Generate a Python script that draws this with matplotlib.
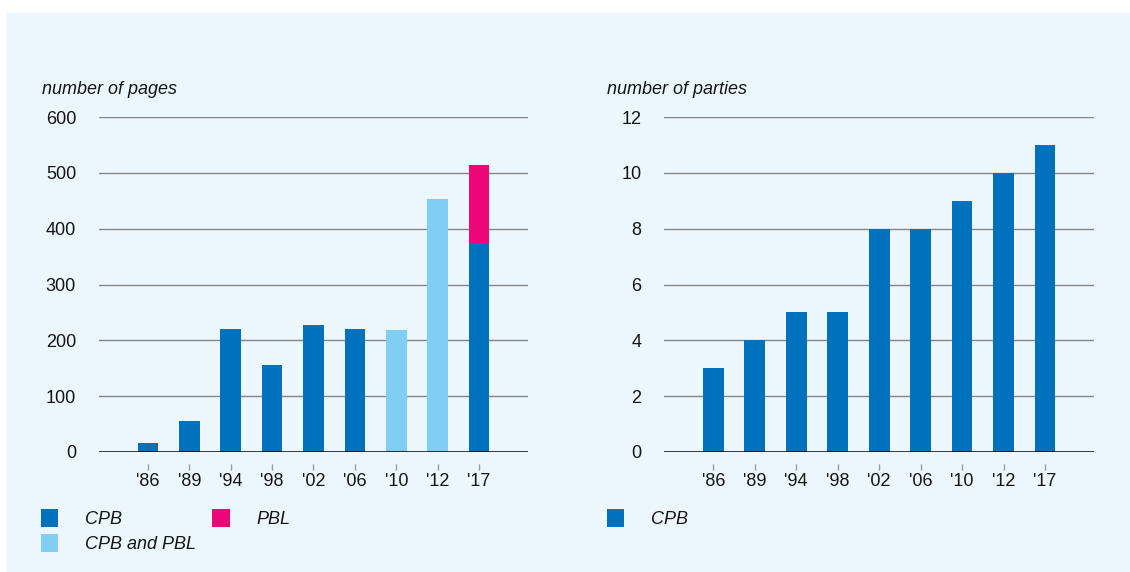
import numpy as np
import matplotlib
matplotlib.use("Agg")
import matplotlib.pyplot as plt
from matplotlib.patches import Patch, Rectangle

plt.rcParams['font.family'] = ['Liberation Sans', 'DejaVu Sans']

# data
years = ["'86", "'89", "'94", "'98", "'02", "'06", "'10", "'12", "'17"]
pages_cpb = [16, 55, 220, 155, 228, 220, 0, 0, 374]
pages_joint = [0, 0, 0, 0, 0, 0, 218, 454, 0]
pages_pbl = [0, 0, 0, 0, 0, 0, 0, 0, 140]
parties = [3, 4, 5, 5, 8, 8, 9, 10, 11]

dark = '#0071bc'
light = '#80cef1'
pink = '#ec0677'
bg = '#ecf7fd'
txt = '#151515'
fs = 13

W, H = 1130, 572
fig = plt.figure(figsize=(W / 100, H / 100), dpi=100)
fig.patch.set_facecolor('white')
fig.patches.append(Rectangle((7 / W, 0), 1, 1 - 13 / H, transform=fig.transFigure,
                             facecolor=bg, edgecolor='none', zorder=-5))

bottom = (H - 452) / H
height = (452 - 117) / H
ax1 = fig.add_axes([99 / W, bottom, (527.5 - 99) / W, height])
ax2 = fig.add_axes([664.4 / W, bottom, (1093.5 - 664.4) / W, height])

x = np.arange(len(years))
bw = 0.5

ax1.bar(x, pages_cpb, bw, color=dark, zorder=3)
ax1.bar(x, pages_joint, bw, color=light, zorder=3)
ax1.bar(x, pages_pbl, bw, bottom=pages_cpb, color=pink, zorder=3)
ax2.bar(x, parties, bw, color=dark, zorder=3)


def style(ax, top, step):
    ax.set_facecolor('none')
    ax.set_xlim(-1.18, 9.17)
    ax.set_ylim(0, top)
    ticks = np.arange(0, top + step, step)
    ax.set_yticks(ticks)
    for t in ticks[1:]:
        ax.axhline(t, color='#858585', lw=1, zorder=1)
    ax.axhline(0, color='black', lw=1.8, zorder=4)
    for s in ax.spines.values():
        s.set_visible(False)
    ax.set_xticks(x)
    ax.set_xticklabels(years)
    ax.tick_params(axis='both', length=0, labelsize=fs, colors=txt)
    ax.tick_params(axis='y', pad=16.5)
    ax.tick_params(axis='x', pad=15)
    # small tick marks below the axis line
    tr = ax.get_xaxis_transform()
    ax.vlines(x, -0.054, -0.036, transform=tr, color='#999999', lw=1, clip_on=False)


style(ax1, 600, 100)
style(ax2, 12, 2)

fig.text(42 / W, 1 - 90 / H, 'number of pages', fontsize=fs, style='italic',
         color=txt, va='center', ha='left')
fig.text(607 / W, 1 - 90 / H, 'number of parties', fontsize=fs, style='italic',
         color=txt, va='center', ha='left')

leg_kw = dict(frameon=False, handlelength=0.95, handleheight=1.15, handletextpad=1.5,
              borderpad=0, borderaxespad=0, labelspacing=0.35, columnspacing=0.9,
              prop={'size': fs, 'style': 'italic'}, labelcolor=txt, loc='upper left')

h1 = [Patch(facecolor=dark), Patch(facecolor=light), Patch(facecolor=pink)]
fig.legend(h1, ['CPB', 'CPB and PBL', 'PBL'], ncol=2,
           bbox_to_anchor=(41 / W, 1 - 509 / H), **leg_kw)
fig.legend([Patch(facecolor=dark)], ['CPB'],
           bbox_to_anchor=(606.5 / W, 1 - 509 / H), **leg_kw)

fig.savefig('out.png', dpi=100, facecolor=fig.get_facecolor())
